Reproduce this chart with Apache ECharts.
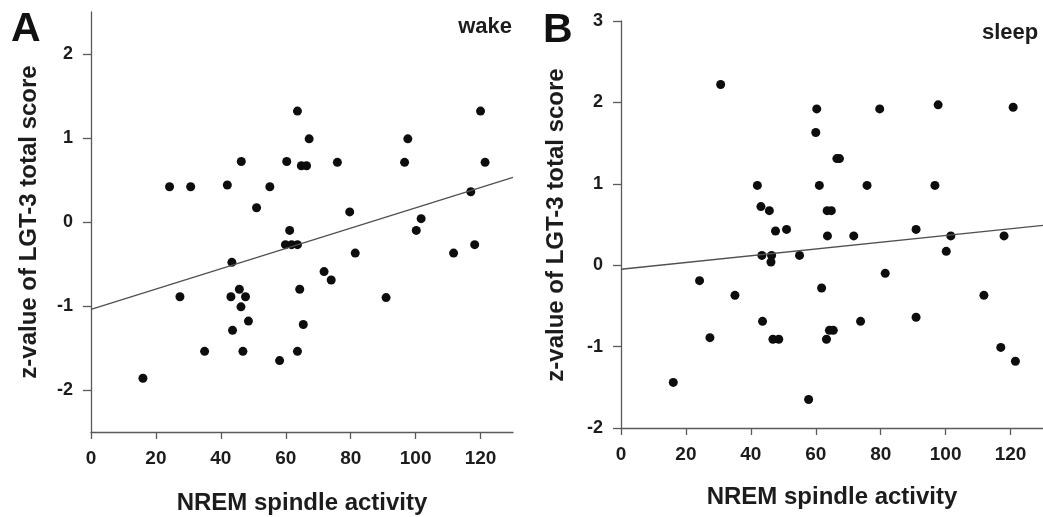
<!DOCTYPE html>
<html><head><meta charset="utf-8">
<script src="https://cdn.jsdelivr.net/npm/echarts@6/dist/echarts.min.js"></script>
<style>html,body{margin:0;padding:0;background:#fff}#c{width:1043px;height:517px}</style>
</head><body><div id="c"></div>
<script>
const xTicks = [0, 20, 40, 60, 80, 100, 120];
const yTicksA = [-2, -1, 0, 1, 2];
const yTicksB = [-2, -1, 0, 1, 2, 3];

const wakeX = [16.0,24.2,30.7,27.4,35.0,42.0,43.4,43.1,43.6,46.3,45.7,47.6,46.2,48.5,46.8,51.0,55.1,58.1,60.3,61.2,59.9,61.8,63.6,63.6,63.6,64.3,65.4,64.8,66.4,67.2,71.8,74.0,75.9,79.7,81.4,90.9,96.6,97.6,100.2,101.7,111.7,117.0,118.2,120.0,121.4];
const wakeY = [-1.86,0.42,0.42,-0.89,-1.54,0.44,-0.48,-0.89,-1.29,0.72,-0.80,-0.89,-1.01,-1.18,-1.54,0.17,0.42,-1.65,0.72,-0.10,-0.27,-0.27,-0.27,1.32,-1.54,-0.80,-1.22,0.67,0.67,0.99,-0.59,-0.69,0.71,0.12,-0.37,-0.90,0.71,0.99,-0.10,0.04,-0.37,0.36,-0.27,1.32,0.71];

const sleepX = [16.1,24.2,27.4,30.7,35.1,42.0,43.1,43.4,43.6,45.7,46.4,46.2,47.6,46.8,48.6,51.0,55.0,57.8,60.0,60.3,61.1,61.8,63.5,64.8,63.6,63.3,64.2,65.4,66.5,67.3,71.7,73.8,75.8,79.7,81.4,90.9,90.9,96.7,97.7,100.2,101.6,111.8,117.0,118.0,120.8,121.5];
const sleepY = [-1.44,-0.19,-0.89,2.22,-0.37,0.98,0.72,0.12,-0.69,0.67,0.12,0.04,0.42,-0.91,-0.91,0.44,0.12,-1.65,1.63,1.92,0.98,-0.28,0.67,0.67,0.36,-0.91,-0.80,-0.80,1.31,1.31,0.36,-0.69,0.98,1.92,-0.10,0.44,-0.64,0.98,1.97,0.17,0.36,-0.37,-1.01,0.36,1.94,-1.18];

const fitAX = [0, 130], fitAY = [-1.04, 0.53];
const fitBX = [0, 130], fitBY = [-0.05, 0.49];

const FONT = "'Liberation Sans', Arial, Helvetica, sans-serif";
const axisColor = '#5a5a5a';
const textColor = '#1c1c1c';

function zip(a, b) { return a.map((v, i) => [v, b[i]]); }

function xAxis(gi) {
  return {
    type: 'value', gridIndex: gi, min: 0, max: 130,
    axisLine: { show: true, onZero: false, lineStyle: { color: axisColor, width: 1.3 } },
    axisTick: { show: true, length: 7, customValues: xTicks, lineStyle: { color: axisColor, width: 1.3 } },
    axisLabel: { customValues: xTicks, margin: 17, fontSize: 19, fontWeight: 'bold', color: textColor, fontFamily: FONT },
    splitLine: { show: false }
  };
}
function yAxis(gi, min, max, ticks) {
  return {
    type: 'value', gridIndex: gi, min: min, max: max,
    axisLine: { show: true, onZero: false, lineStyle: { color: axisColor, width: 1.3 } },
    axisTick: { show: true, length: 8, customValues: ticks, lineStyle: { color: axisColor, width: 1.3 } },
    axisLabel: { customValues: ticks, margin: 18, fontSize: 18, fontWeight: 'bold', color: textColor, fontFamily: FONT },
    splitLine: { show: false }
  };
}

const chart = echarts.init(document.getElementById('c'), null, { renderer: 'canvas' });
chart.setOption({
  backgroundColor: '#fff',
  animation: false,
  grid: [
    { left: 91, top: 12, width: 422, height: 420 },
    { left: 621, top: 21, width: 422, height: 407 }
  ],
  xAxis: [xAxis(0), xAxis(1)],
  yAxis: [yAxis(0, -2.5, 2.5, yTicksA), yAxis(1, -2, 3, yTicksB)],
  series: [
    { type: 'scatter', xAxisIndex: 0, yAxisIndex: 0, data: zip(wakeX, wakeY), symbolSize: 9, itemStyle: { color: '#0d0d0d', opacity: 1 } },
    { type: 'line', xAxisIndex: 0, yAxisIndex: 0, data: zip(fitAX, fitAY), showSymbol: false, lineStyle: { color: '#505050', width: 1.3 } },
    { type: 'scatter', xAxisIndex: 1, yAxisIndex: 1, data: zip(sleepX, sleepY), symbolSize: 9, itemStyle: { color: '#0d0d0d', opacity: 1 } },
    { type: 'line', xAxisIndex: 1, yAxisIndex: 1, data: zip(fitBX, fitBY), showSymbol: false, lineStyle: { color: '#505050', width: 1.3 } }
  ],
  graphic: [
    { type: 'text', left: 11, top: 9, style: { text: 'A', font: "bold 41px " + FONT, fill: '#111' } },
    { type: 'text', left: 543, top: 10, style: { text: 'B', font: "bold 41px " + FONT, fill: '#111' } },
    { type: 'text', x: 512, y: 38, style: { text: 'wake', font: "bold 22px " + FONT, fill: textColor, textAlign: 'right', textVerticalAlign: 'bottom' } },
    { type: 'text', x: 982, y: 44, style: { text: 'sleep', font: "bold 22px " + FONT, fill: textColor, textAlign: 'left', textVerticalAlign: 'bottom' } },
    { type: 'text', x: 29, y: 222, rotation: Math.PI / 2, style: { text: 'z-value of LGT-3 total score', font: "bold 24px " + FONT, fill: textColor, textAlign: 'center', textVerticalAlign: 'middle' } },
    { type: 'text', x: 556, y: 225, rotation: Math.PI / 2, style: { text: 'z-value of LGT-3 total score', font: "bold 24px " + FONT, fill: textColor, textAlign: 'center', textVerticalAlign: 'middle' } },
    { type: 'text', x: 302, y: 503, style: { text: 'NREM spindle activity', font: "bold 24px " + FONT, fill: textColor, textAlign: 'center', textVerticalAlign: 'middle' } },
    { type: 'text', x: 832, y: 497, style: { text: 'NREM spindle activity', font: "bold 24px " + FONT, fill: textColor, textAlign: 'center', textVerticalAlign: 'middle' } }
  ]
});
</script>
</body></html>
